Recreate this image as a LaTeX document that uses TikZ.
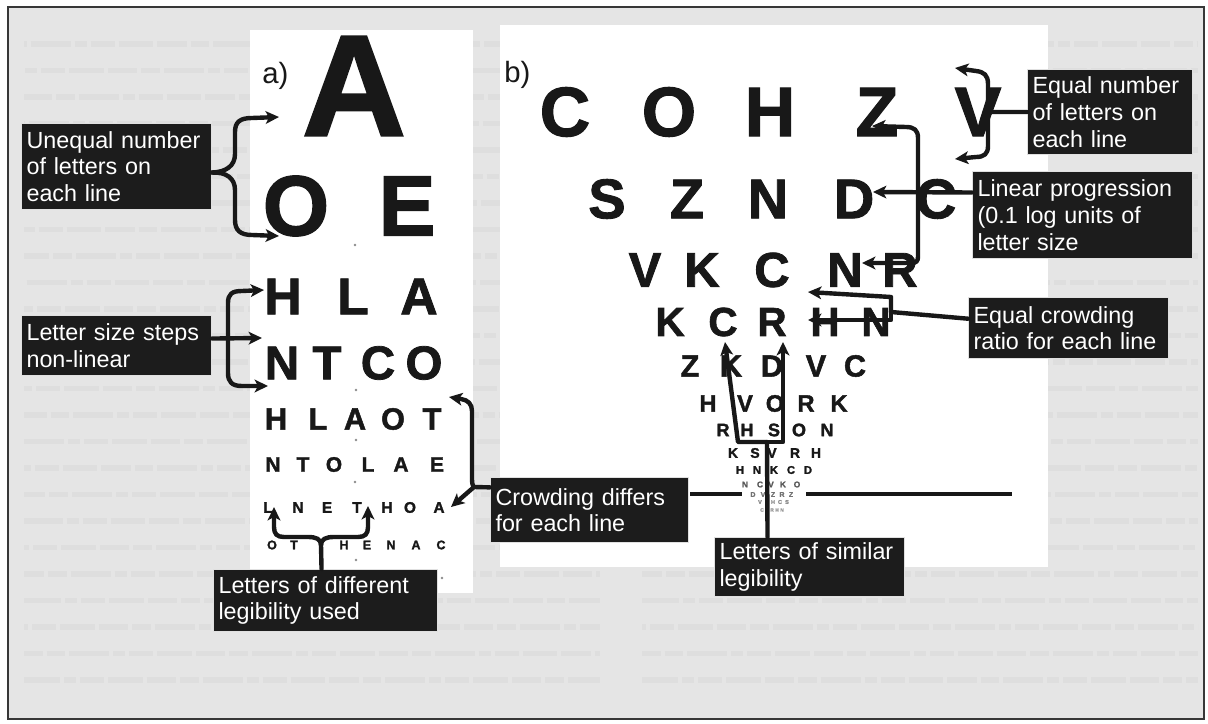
\documentclass[tikz,border=0pt]{standalone}
\usepackage{fontspec}
\setmainfont{Liberation Sans}
\newfontfamily\heavysans[FakeBold=1.6]{Liberation Sans Bold}
\usetikzlibrary{arrows.meta}

\definecolor{pagegray}{RGB}{229,229,229}
\definecolor{printgray}{RGB}{222,222,222}
\definecolor{ink}{RGB}{24,24,24}
\definecolor{boxfill}{RGB}{28,28,28}
\definecolor{framegray}{RGB}{55,55,55}

% one line of an acuity chart: [extra style]{name prefix}{centre y}{font size in pt}{x/letter list}
\newcommand\chartline[5][]{%
  \foreach \px/\lettr [count=\k] in {#5}
    \node[chartletter,#1,font={\fontsize{#4}{#4}\selectfont\heavysans}] (#2-\k) at (\px,#3) {\lettr};%
}

\begin{document}
\begin{tikzpicture}[x=0.75pt, y=-0.75pt,
  chartletter/.style={inner sep=0pt, text=ink},
  notebox/.style={anchor=north west, fill=boxfill, draw=white!88!black, line width=0.8pt,
    text=white, align=left, inner xsep=3.75pt, inner ysep=0pt,
    font={\fontsize{17.5}{20}\selectfont}},
  lead/.style={draw=ink, line width=3.3pt, line join=round, line cap=round,
    -{Stealth[length=10pt,width=9.5pt,inset=2.5pt]}},
  stub/.style={draw=ink, line width=3.3pt, line join=round, line cap=round},
  printline/.style={draw=printgray, line width=4pt,
    dash pattern=on 22pt off 3pt on 14pt off 3pt on 30pt off 3pt on 9pt off 3pt on 18pt off 3pt on 26pt off 3pt},
  tag/.style={anchor=base west, inner sep=0pt, text=ink, font={\fontsize{22}{22}\selectfont}}
]
\useasboundingbox (0,0) rectangle (1208,724);

% page and faded print behind the charts
\fill[white] (0,0) rectangle (1208,724);
\fill[pagegray] (8,7) rectangle (1204,719);
\foreach \yy [count=\n] in {44,70.5,...,705} {
  \pgfmathsetmacro\ph{mod(\n*37,110)}
  \draw[printline, dash phase=\ph pt] (24,\yy) -- (600,\yy);
  \draw[printline, dash phase=\ph pt] (642,\yy) -- (1198,\yy);
}
\draw[framegray, line width=1.6pt] (8,7) rectangle (1204,719);

% the two chart cards
\fill[white] (250,30) rectangle (473,593);
\fill[white] (500,25) rectangle (1048,567);

\node[tag] (tag-a) at (262,84) {a)};
\node[tag] (tag-b) at (504,83) {b)};

% chart a: Snellen type
\chartline{ra1}{86}{108}{354/A}
\chartline{ra2}{206}{64}{296/O,407/E}
\chartline{ra3}{296.5}{38.8}{283/H,353/L,419/A}
\chartline{ra4}{363}{35.6}{282/N,327/T,378/C,424/O}
\chartline{ra5}{419}{23}{276/H,318/L,355/A,393/O,432/T}
\chartline{ra6}{464.5}{15.7}{273/N,303/T,334/O,368/L,401/A,437/E}
\chartline{ra7}{507.5}{11.5}{268/L,298/N,327/E,357/T,387/H,410/O,439/A}
\chartline{ra8}{545}{9.4}{272/O,294/T,344/H,367/E,391/N,416/A,441/C}
\foreach \dx/\dy in {355/245,356/390,356/440,355/482,356/560,442/578}
  \fill[black!45] (\dx,\dy) circle (1.4);

% chart b: logMAR type
\chartline{rb1}{112}{52.4}{565/C,669/O,770/H,877/Z,978/V}
\chartline{rb2}{199}{42}{607/S,687/Z,768/N,854/D,936/C}
\chartline{rb3}{270}{36.7}{645/V,702/K,772/C,845/N,900/R}
\chartline{rb4}{322}{30.4}{670/K,723/C,772/R,825/H,876/N}
\chartline{rb5}{366}{23}{690/Z,731/K,772/D,816/V,855/C}
\chartline{rb6}{403.5}{17.8}{708/H,745/V,775/O,806/R,839/K}
\chartline{rb7}{430}{13.6}{723/R,747/H,774/S,799/O,827/N}
\chartline{rb8}{453}{10.5}{733/K,755/S,772/V,795/R,816/H}
\chartline{rb9}{470}{8.4}{740/H,757/N,774/K,791/C,808/D}
\chartline[text=black!65]{rb10}{484.5}{6.3}{745/N,760/C,771/V,783/K,797/O}
\chartline[text=black!55]{rb11}{494.5}{5.2}{753/D,763/V,773/Z,782/R,791/Z}
\chartline[text=black!45]{rb12}{502}{4.2}{760/V,767/Z,773/H,780/C,787/S}
\chartline[text=black!40]{rb13}{510}{3.7}{762/C,767/S,772/R,777/H,782/N}
\draw[ink, line width=2.6pt] (690,494) -- (742,494);
\draw[ink, line width=2.6pt] (806,494) -- (1012,494);

% label boxes
\node[notebox, text width=135pt, minimum height=64.5pt] (unequal) at (21,123)
  {Unequal number\\of letters on\\each line};
\node[notebox, text width=135pt, minimum height=45pt] (steps) at (21,315)
  {Letter size steps\\non-linear};
\node[notebox, text width=141pt, minimum height=48.75pt] (crowd) at (490,477)
  {Crowding differs\\for each line};
\node[notebox, text width=160.5pt, minimum height=46.5pt] (difflegib) at (213,569)
  {Letters of different\\legibility used};
\node[notebox, text width=116.25pt, minimum height=63.75pt] (eqnum) at (1027,69)
  {Equal number\\of letters on\\each line};
\node[notebox, text width=157.5pt, minimum height=65.25pt] (linear) at (972,171)
  {Linear progression\\(0.1 log units of\\letter size};
\node[notebox, text width=142.5pt, minimum height=45.75pt] (eqcrowd) at (968,297)
  {Equal crowding\\ratio for each line};
\node[notebox, text width=135pt, minimum height=44.25pt] (similar) at (714,537)
  {Letters of similar\\legibility};

% arrow end points and branch points
\coordinate (ua-top) at (279,117);
\coordinate (ua-bot) at (279,236);
\coordinate (ls-j) at (228,338);
\coordinate (ls-top) at (264,290);
\coordinate (ls-mid) at (262,338);
\coordinate (ls-bot) at (268,386);
\coordinate (cd-j) at (474,487);
\coordinate (cd-top) at (449,397);
\coordinate (cd-bot) at (451,507);
\coordinate (dl-j) at (321,545);
\coordinate (dl-left) at (274,507);
\coordinate (dl-right) at (368,506);
\coordinate (en-j) at (988,112);
\coordinate (en-top) at (955,68);
\coordinate (en-bot) at (955,159);
\coordinate (lp-j) at (918,192);
\coordinate (lp-top) at (872,126);
\coordinate (lp-mid) at (873,192);
\coordinate (lp-bot) at (862,263);
\coordinate (ec-j) at (891,312);
\coordinate (ec-top) at (808,292);
\coordinate (ec-bot) at (808,320);
\coordinate (sl-j) at (767,442);
\coordinate (sl-left) at (725,342);
\coordinate (sl-right) at (783,342);

% chart a connectors
\draw[lead] ([yshift=-4.5pt]unequal.east) .. controls (226,172) and (235,166) .. (235,154)
  -- (235,132) .. controls (235,122) and (240,118) .. (252,118) -- (ua-top);
\draw[lead] ([yshift=-4.5pt]unequal.east) .. controls (226,172) and (235,178) .. (235,190)
  -- (235,220) .. controls (235,230) and (240,235) .. (252,235) -- (ua-bot);

\draw[lead] ([yshift=5.25pt]steps.east) -- (ls-mid);
\draw[lead] (ls-j) -- (228,303) .. controls (228,294) and (232,291) .. (242,291) -- (ls-top);
\draw[lead] (ls-j) -- (228,373) .. controls (228,382) and (232,386) .. (242,386) -- (ls-bot);

\draw[stub] ([yshift=17pt]crowd.west) -- (cd-j);
\draw[lead] (cd-j) .. controls (472,485) and (472,482) .. (472,476) -- (472,411)
  .. controls (472,404) and (468,400) .. (461,399) -- (cd-top);
\draw[lead] (cd-j) -- (cd-bot);

\draw[stub] ([xshift=-3pt]difflegib.north) -- (dl-j);
\draw[lead] (dl-j) .. controls (321,539) and (316,537) .. (308,537) -- (284,537)
  .. controls (277,537) and (274,534) .. (274,527) -- (dl-left);
\draw[lead] (dl-j) .. controls (321,539) and (326,537) .. (334,537) -- (358,537)
  .. controls (365,537) and (368,534) .. (368,527) -- (dl-right);

% chart b connectors
\draw[stub] (eqnum.west) -- (en-j);
\draw[lead] (en-j) -- (988,84) .. controls (988,75) and (984,72) .. (976,71) -- (en-top);
\draw[lead] (en-j) -- (988,146) .. controls (988,154) and (984,157) .. (976,157) -- (en-bot);

\draw[lead] ([yshift=16.9pt]linear.west) -- (lp-mid);
\draw[lead] (lp-j) -- (918,138) .. controls (918,130) and (914,127) .. (906,127) -- (lp-top);
\draw[lead] (lp-j) -- (918,257) .. controls (918,261) and (916,263) .. (912,263) -- (lp-bot);

\draw[stub] ([yshift=7pt]eqcrowd.west) -- (ec-j);
\draw[lead] (ec-j) -- (891,297) -- (ec-top);
\draw[lead] (ec-j) -- (891,320) -- (ec-bot);

\draw[stub] ([xshift=-31.5pt]similar.north) -- (sl-j);
\draw[lead] (sl-j) -- (738,442) -- (sl-left);
\draw[lead] (sl-j) -- (783,442) -- (sl-right);
\end{tikzpicture}
\end{document}
